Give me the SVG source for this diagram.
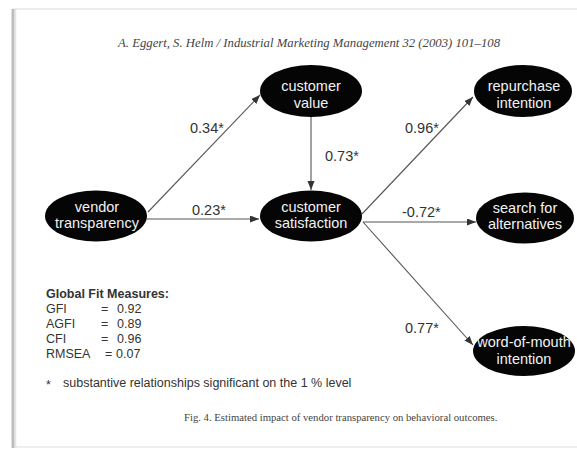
<svg xmlns="http://www.w3.org/2000/svg" width="577" height="449" viewBox="0 0 577 449">
  <style>
    .node ellipse { fill: #050505; }
    .node text { fill: #f2f2f2; font-family: "Liberation Sans", Arial, sans-serif; font-size: 14.5px; text-anchor: middle; }
    .edge { stroke: #555; stroke-width: 1.1; fill: none; marker-end: url(#arr); }
    .lbl { fill: #333; font-family: "Liberation Sans", Arial, sans-serif; font-size: 14.5px; }
    .fit { fill: #333; font-family: "Liberation Sans", Arial, sans-serif; font-size: 12.5px; }
    .serif { fill: #444; font-family: "Liberation Serif", "Times New Roman", serif; }
  </style>
  <defs>
    <marker id="arr" markerUnits="userSpaceOnUse" markerWidth="10" markerHeight="8" refX="9" refY="3.5" orient="auto">
      <path d="M0,0 L9,3.5 L0,7 z" fill="#333"/>
    </marker>
  </defs>
  <rect x="0" y="0" width="577" height="449" fill="#ffffff"/>
  <g id="page">
    <line x1="13" y1="9" x2="577" y2="9" stroke="#e6e6e6" stroke-width="1.5"/>
    <line x1="13" y1="447" x2="577" y2="447" stroke="#e8e8e8" stroke-width="1.5"/>
    <line x1="13" y1="9" x2="13" y2="448" stroke="#bdbdbd" stroke-width="3"/>
    <line x1="15.5" y1="9" x2="15.5" y2="448" stroke="#e4e4e4" stroke-width="1.5"/>
  </g>
  <text class="serif" x="118" y="47" font-size="12.5" font-style="italic" textLength="382" lengthAdjust="spacingAndGlyphs">A. Eggert, S. Helm / Industrial Marketing Management 32 (2003) 101–108</text>
  <g id="connectors">
    <line class="edge" x1="148" y1="212" x2="260" y2="95"/>
    <line class="edge" x1="311" y1="117" x2="311" y2="190"/>
    <line class="edge" x1="147" y1="219" x2="259" y2="219"/>
    <line class="edge" x1="362" y1="214" x2="473" y2="97"/>
    <line class="edge" x1="363" y1="222" x2="476" y2="222"/>
    <line class="edge" x1="363" y1="222" x2="473" y2="345"/>
    <text class="lbl" x="190" y="133">0.34*</text>
    <text class="lbl" x="325" y="161">0.73*</text>
    <text class="lbl" x="192" y="215">0.23*</text>
    <text class="lbl" x="405" y="133">0.96*</text>
    <text class="lbl" x="402" y="217">-0.72*</text>
    <text class="lbl" x="405" y="333">0.77*</text>
  </g>
  <g id="vendor-transparency" class="node">
    <ellipse cx="96" cy="216" rx="51" ry="25.5"/>
    <text x="97" y="212">vendor</text>
    <text x="97" y="228">transparency</text>
  </g>
  <g id="customer-value" class="node">
    <ellipse cx="311" cy="91" rx="51" ry="26"/>
    <text x="311" y="91">customer</text>
    <text x="311" y="108">value</text>
  </g>
  <g id="customer-satisfaction" class="node">
    <ellipse cx="311" cy="216" rx="51" ry="25.5"/>
    <text x="311" y="212">customer</text>
    <text x="311" y="228">satisfaction</text>
  </g>
  <g id="repurchase-intention" class="node">
    <ellipse cx="523" cy="91" rx="49" ry="26"/>
    <text x="524" y="91">repurchase</text>
    <text x="524" y="108">intention</text>
  </g>
  <g id="search-for-alternatives" class="node">
    <ellipse cx="525" cy="218" rx="49" ry="25.5"/>
    <text x="525" y="213">search for</text>
    <text x="525" y="229">alternatives</text>
  </g>
  <g id="word-of-mouth-intention" class="node">
    <ellipse cx="524" cy="351" rx="51" ry="25"/>
    <text x="524" y="347">word-of-mouth</text>
    <text x="524" y="364">intention</text>
  </g>
  <g id="fit-measures">
    <text class="fit" x="46" y="298" font-weight="bold" font-size="12">Global Fit Measures:</text>
    <text class="fit" x="46" y="313">GFI</text><text class="fit" x="101" y="313">=</text><text class="fit" x="117" y="313">0.92</text>
    <text class="fit" x="46" y="328">AGFI</text><text class="fit" x="101" y="328">=</text><text class="fit" x="117" y="328">0.89</text>
    <text class="fit" x="46" y="343">CFI</text><text class="fit" x="101" y="343">=</text><text class="fit" x="117" y="343">0.96</text>
    <text class="fit" x="46" y="358">RMSEA</text><text class="fit" x="105" y="358">=</text><text class="fit" x="116" y="358">0.07</text>
  </g>
  <g id="footnote">
    <text class="fit" x="46" y="389">*</text>
    <text class="fit" x="63" y="387">substantive relationships significant on the 1 % level</text>
  </g>
  <text class="serif" x="184" y="421" font-size="10.7">Fig. 4. Estimated impact of vendor transparency on behavioral outcomes.</text>
</svg>
